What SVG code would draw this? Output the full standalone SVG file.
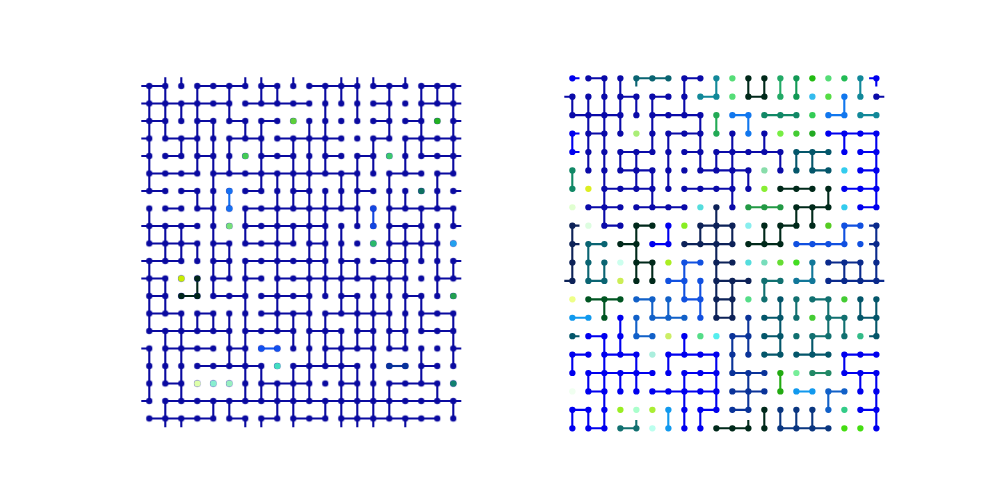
<svg xmlns="http://www.w3.org/2000/svg" width="1000" height="500" viewBox="0 0 1000 500">
<style>
.e{fill:none;stroke-width:2.1;vector-effect:non-scaling-stroke}
.d{fill:none;stroke-width:6.2;stroke-linecap:round;vector-effect:non-scaling-stroke}
</style>
<defs>
<pattern id="pl" patternUnits="userSpaceOnUse" x="141.3" y="77.25" width="16" height="17.5"><circle cx="8" cy="8.75" r="3.1" fill="#0a0aa0"/></pattern>
</defs>
<rect width="1000" height="500" fill="#fff"/>
<g id="left-lattice">
<g id="left-connectors" transform="translate(149.3 86) scale(16 17.5)">
<path class="e" stroke="#0a0aa0" d="M-.5 0H1M3 0H6M7 0H8M10 0H13M14 0H16M17 0H19.5M-.5 1H5M6 1H10M14 1H15M17 1H19.5M-.5 2H1M3 2H4M5 2H6M7 2H8M14 2H15M16 2H17M19 2H19.5M-.5 3H0M1 3H3M5 3H7M8 3H12M14 3H15M16 3H19.5M-.5 4H0M1 4H2M3 4H4M7 4H9M11 4H12M13 4H14M17 4H19.5M0 5H3M4 5H13M15 5H17M18 5H19M-.5 6H1M2 6H3M6 6H7M9 6H10M13 6H14M19 6H19.5M1 7H2M3 7H4M6 7H13M15 7H19M-.5 8H3M6 8H11M15 8H17M19 8H19.5M0 9H3M4 9H5M6 9H9M10 9H11M15 9H18M-.5 10H2M4 10H5M6 10H11M12 10H13M14 10H16M19 10H19.5M-.5 11H1M4 11H5M6 11H7M8 11H16M18 11H19.5M0 12H1M4 12H6M7 12H10M12 12H13M16 12H17M0 13H2M3 13H4M7 13H10M11 13H15M17 13H19M0 14H5M6 14H9M10 14H12M13 14H14M15 14H16M17 14H19M-.5 15H0M1 15H4M5 15H6M11 15H14M15 15H16M19 15H19.5M3 16H7M9 16H13M17 16H18M1 17H2M7 17H10M12 17H13M15 17H18M-.5 18H0M1 18H19.5M0 19H4M5 19H6M7 19H8M9 19H11M12 19H18M0 0V6M0 7V9M0 10V14M0 15V18M1 0V3M1 8V10M1 11V13M1 14V17M1 18V19M2 1V2M2 3V4M2 8V10M2 13V18M3 0V5M3 6V7M3 9V10M3 13V14M4 2V12M4 13V14M4 18V19M5 0V2M5 3V5M5 9V11M5 13V16M5 18V19M6 2V3M6 7V9M6 10V18M7 0V1M7 2V6M7 16V18M8 0V1M8 5V14M8 17V19M9 3V7M9 8V9M9 13V15M9 16V19M10 2V18M11 0V5M11 6V12M11 13V16M11 18V19M12 0V1M12 5V7M12 8V13M12 14V19M13 0V2M13 4V8M13 10V11M13 12V15M13 16V19M14 3V5M14 11V19M15 0V3M15 5V15M15 17V19M16 3V5M16 6V7M16 8V15M17 0V4M17 7V10M17 12V14M17 15V17M18 0V1M18 5V7M18 8V12M18 17V18M19 0V5M19 7V8M19 10V11M19 13V16M19 18V19M1 -.5V0M1 19V19.5M2 -.5V0M2 19V19.5M6 -.5V0M6 19V19.5M7 -.5V0M7 19V19.5M9 -.5V0M9 19V19.5M12 -.5V0M12 19V19.5M13 -.5V0M13 19V19.5M14 -.5V0M14 19V19.5M16 -.5V0M16 19V19.5"/>
<path class="e" stroke="#1570f0" d="M5 6V7"/>
<path class="e" stroke="#1246e0" d="M14 7V8"/>
<path class="e" stroke="#00261a" d="M3 11V12H2"/>
<path class="e" stroke="#1150ee" d="M7 15H8"/>
<path class="e" stroke="#08339a" d="M15 16H16"/>
</g>
<g id="left-nodes">
<rect x="141.3" y="77.25" width="320" height="350" fill="url(#pl)"/>
<g transform="translate(149.3 86) scale(16 17.5)">
<path class="d" stroke="#5ccf3a" d="M9 2h.01"/>
<path class="d" stroke="#44cc55" d="M6 4h.01"/>
<path class="d" stroke="#1570f0" d="M5 6h.01M5 7h.01"/>
<path class="d" stroke="#77e07a" d="M5 8h.01"/>
<path class="d" stroke="#22b022" d="M18 2h.01"/>
<path class="d" stroke="#3cc86e" d="M15 4h.01"/>
<path class="d" stroke="#0f7060" d="M17 6h.01"/>
<path class="d" stroke="#1246e0" d="M14 7h.01M14 8h.01"/>
<path class="d" stroke="#2ab86a" d="M14 9h.01"/>
<path class="d" stroke="#22a0ee" d="M19 9h.01"/>
<path class="d" stroke="#c8ee00" d="M2 11h.01"/>
<path class="d" stroke="#00261a" d="M3 11h.01M2 12h.01M3 12h.01"/>
<path class="d" stroke="#1150ee" d="M7 15h.01M8 15h.01"/>
<path class="d" stroke="#44ddc0" d="M8 16h.01"/>
<path class="d" stroke="#ddffaa" d="M3 17h.01"/>
<path class="d" stroke="#88eed0" d="M4 17h.01"/>
<path class="d" stroke="#99efc0" d="M5 17h.01"/>
<path class="d" stroke="#22a050" d="M19 12h.01"/>
<path class="d" stroke="#08339a" d="M15 16h.01M16 16h.01"/>
<path class="d" stroke="#128070" d="M19 17h.01"/>
</g>
</g>
</g>
<g id="right-lattice" transform="translate(572.3 78.3) scale(16 18.42)">
<g id="right-connectors">
<path class="e" stroke="#0000ee" d="M0 0H.45M18.55 0H19M19 0V.45M0 3H.45M16 3H19M0 3V4M17 3V4M19 3V7M0 4H.45M18 4H19M18 5H19M17 6H19M18 7H19M6 8V9M5 9H6M3 13V15M1 14H2M2 14V19M7 14V15M0 15H1M2 15H4M6 15H9M17 15H19M0 15V16M4 15V17M6 15V16M9 15V18M17 15V16M1 16H5M7 16H9M17 16H19M1 16V17M3 16V17M7 16V19M18 16V17M19 16V19M1 17H2M5 17H9M0 18H1M8 18H9M18 18H19M0 18V19M1 18V19M8 18V19M1 19H2"/>
<path class="e" stroke="#0a0aa8" d="M1 0H2M7 0H8M-.5 1H0M3 1H4M5 1H6M19 1H19.5M0 2H3M5 2H8M1 3H2M6 3H8M3 4H5M7 4H8M9 4H13M3 5H5M8 5H11M2 6H5M7 6H10M1 7H3M4 7H7M2 8H3M0 1V2M1 1V5M2 0V8M3 0V3M3 4V5M4 1V2M4 4V6M5 1V4M5 5V7M6 3V6M7 0V2M8 2V5M9 4V5M10 3V7M11 5V6M12 3V4M13 4V5"/>
<path class="e" stroke="#0a6472" d="M4 0H6M4 0V.45M1 9H2M1 9V11M2 10V11M1 11H2"/>
<path class="e" stroke="#118899" d="M8 1H9M18 2H19M9 0V1M18 0V1"/>
<path class="e" stroke="#00291a" d="M11 0V1H12V0M13 6H15M16 6V7M14 7H16M14 7V8M15 7V8M4 8H5M13 8H14M4 8V11M12 8V9M13 8V9M3 9H4M11 9H13M4 10H5M5 10V11M12 18V19M11 18.55V19M9 19H11"/>
<path class="e" stroke="#0d2258" d="M9 7V13M8 8H10M0 8V11M8 8V9M10 8V9M7 9H10M0 8H.45M0 9H.45M9 10H10M-.5 11H0M9 11H11M10 11V13M9 12H10M9 13H10"/>
<path class="e" stroke="#0a2a8c" d="M19 8V11M18.55 8H19M18.55 9H19M16 10H18M17 10V11M18 10V11M16 11H19.5"/>
<path class="e" stroke="#0a3399" d="M11 13V15M10 14H11M10 14V16M10 16H12M11 16V18M10 17H12M10 18H11"/>
<path class="e" stroke="#0a3680" d="M13 18V19M14 18V19M15 18V19M13 19H16"/>
<path class="e" stroke="#04566a" d="M14 4H16M14 4V5M15 4V5M15 5H16M13 12V15M18 12V13M19 12V14M12 13H13M18 13H19M0 14H.45M12 14H13M18.55 14H19M15 14V15M12 15H13M14 15H16"/>
<path class="e" stroke="#117799" d="M15 10V11M14 11H15"/>
<path class="e" stroke="#117070" d="M12 11H13M12 11V12M15 12H16M14 12V13M16 12V14M16 13H17M17 13V14M15 14H16M4 18.55V19M3 19H4"/>
<path class="e" stroke="#1177ee" d="M17 1V2M10 2H11M16 2H17M11 2V3"/>
<path class="e" stroke="#1150e0" d="M17 8H18M17 8V9M14 9H17M7 10H8M7 10V12M6 11H7M8 11V13M7 12H8"/>
<path class="e" stroke="#1160c8" d="M4 12H5M5 12V13M6 12V13M5 13H7M4 13V14M4 14H5M16 17H17M16 17V18"/>
<path class="e" stroke="#1199ee" d="M0 13H1M14 17H15M6 18V19"/>
<path class="e" stroke="#005522" d="M1 12H3M2 12V13"/>
<path class="e" stroke="#118866" d="M12 2H14M0 5V6"/>
<path class="e" stroke="#22aa55" d="M9 2V3"/>
<path class="e" stroke="#229944" d="M11 7H13"/>
<path class="e" stroke="#22aa11" d="M13 16V17"/>
<path class="e" stroke="#228866" d="M15 16H16"/>
<path class="e" stroke="#22aa66" d="M13 0V1"/>
<path class="e" stroke="#119955" d="M14 0V1"/>
</g>
<g id="right-nodes">
<path class="d" stroke="#0a0aa8" d="M1 0h.01M2 0h.01M3 0h.01M7 0h.01M8 0h.01M0 1h.01M1 1h.01M2 1h.01M3 1h.01M4 1h.01M5 1h.01M6 1h.01M7 1h.01M19 1h.01M0 2h.01M1 2h.01M2 2h.01M3 2h.01M4 2h.01M5 2h.01M6 2h.01M7 2h.01M8 2h.01M1 3h.01M2 3h.01M3 3h.01M5 3h.01M6 3h.01M7 3h.01M8 3h.01M10 3h.01M12 3h.01M1 4h.01M2 4h.01M3 4h.01M4 4h.01M5 4h.01M6 4h.01M7 4h.01M8 4h.01M9 4h.01M10 4h.01M11 4h.01M12 4h.01M13 4h.01M1 5h.01M2 5h.01M3 5h.01M4 5h.01M5 5h.01M6 5h.01M7 5h.01M8 5h.01M9 5h.01M10 5h.01M11 5h.01M13 5h.01M2 6h.01M3 6h.01M4 6h.01M5 6h.01M6 6h.01M7 6h.01M8 6h.01M9 6h.01M10 6h.01M11 6h.01M1 7h.01M2 7h.01M3 7h.01M4 7h.01M5 7h.01M6 7h.01M7 7h.01M10 7h.01M2 8h.01M3 8h.01"/>
<path class="d" stroke="#0000ee" d="M0 0h.01M19 0h.01M0 3h.01M16 3h.01M17 3h.01M18 3h.01M19 3h.01M0 4h.01M17 4h.01M18 4h.01M19 4h.01M18 5h.01M19 5h.01M17 6h.01M18 6h.01M19 6h.01M18 7h.01M19 7h.01M6 8h.01M5 9h.01M6 9h.01M3 13h.01M1 14h.01M2 14h.01M3 14h.01M7 14h.01M0 15h.01M1 15h.01M2 15h.01M3 15h.01M4 15h.01M6 15h.01M7 15h.01M8 15h.01M9 15h.01M17 15h.01M18 15h.01M19 15h.01M0 16h.01M1 16h.01M2 16h.01M3 16h.01M4 16h.01M5 16h.01M6 16h.01M7 16h.01M8 16h.01M9 16h.01M17 16h.01M18 16h.01M19 16h.01M1 17h.01M2 17h.01M3 17h.01M4 17h.01M5 17h.01M6 17h.01M7 17h.01M8 17h.01M9 17h.01M18 17h.01M19 17h.01M0 18h.01M1 18h.01M2 18h.01M7 18h.01M8 18h.01M9 18h.01M18 18h.01M19 18h.01M0 19h.01M1 19h.01M2 19h.01M7 19h.01M8 19h.01M19 19h.01"/>
<path class="d" stroke="#0a6472" d="M4 0h.01M5 0h.01M6 0h.01M1 9h.01M2 9h.01M1 10h.01M2 10h.01M1 11h.01M2 11h.01"/>
<path class="d" stroke="#118899" d="M9 0h.01M18 0h.01M8 1h.01M9 1h.01M18 1h.01M18 2h.01M19 2h.01"/>
<path class="d" stroke="#00291a" d="M11 0h.01M12 0h.01M11 1h.01M12 1h.01M13 6h.01M14 6h.01M15 6h.01M16 6h.01M14 7h.01M15 7h.01M16 7h.01M4 8h.01M5 8h.01M12 8h.01M13 8h.01M14 8h.01M15 8h.01M3 9h.01M4 9h.01M11 9h.01M12 9h.01M13 9h.01M4 10h.01M5 10h.01M4 11h.01M5 11h.01M12 18h.01M9 19h.01M10 19h.01M11 19h.01M12 19h.01"/>
<path class="d" stroke="#0d2258" d="M9 7h.01M0 8h.01M8 8h.01M9 8h.01M10 8h.01M0 9h.01M7 9h.01M8 9h.01M9 9h.01M10 9h.01M0 10h.01M9 10h.01M10 10h.01M0 11h.01M9 11h.01M10 11h.01M11 11h.01M9 12h.01M10 12h.01M9 13h.01M10 13h.01"/>
<path class="d" stroke="#0a2a8c" d="M19 8h.01M19 9h.01M16 10h.01M17 10h.01M18 10h.01M19 10h.01M16 11h.01M17 11h.01M18 11h.01M19 11h.01"/>
<path class="d" stroke="#0a3399" d="M11 13h.01M10 14h.01M11 14h.01M10 15h.01M11 15h.01M10 16h.01M11 16h.01M12 16h.01M10 17h.01M11 17h.01M12 17h.01M10 18h.01M11 18h.01"/>
<path class="d" stroke="#0a3680" d="M13 18h.01M14 18h.01M15 18h.01M13 19h.01M14 19h.01M15 19h.01M16 19h.01"/>
<path class="d" stroke="#04566a" d="M14 4h.01M15 4h.01M16 4h.01M14 5h.01M15 5h.01M16 5h.01M13 12h.01M18 12h.01M19 12h.01M12 13h.01M13 13h.01M18 13h.01M19 13h.01M0 14h.01M12 14h.01M13 14h.01M19 14h.01M12 15h.01M13 15h.01M14 15h.01M15 15h.01M16 15h.01"/>
<path class="d" stroke="#117799" d="M15 10h.01M14 11h.01M15 11h.01"/>
<path class="d" stroke="#117070" d="M12 11h.01M13 11h.01M12 12h.01M14 12h.01M15 12h.01M16 12h.01M14 13h.01M16 13h.01M17 13h.01M14 14h.01M15 14h.01M16 14h.01M17 14h.01M3 19h.01M4 19h.01"/>
<path class="d" stroke="#1177ee" d="M17 1h.01M10 2h.01M11 2h.01M16 2h.01M17 2h.01M11 3h.01"/>
<path class="d" stroke="#1150e0" d="M17 8h.01M18 8h.01M14 9h.01M15 9h.01M16 9h.01M17 9h.01M18 9h.01M7 10h.01M8 10h.01M6 11h.01M7 11h.01M8 11h.01M7 12h.01M8 12h.01M8 13h.01"/>
<path class="d" stroke="#1160c8" d="M4 12h.01M5 12h.01M6 12h.01M4 13h.01M5 13h.01M6 13h.01M7 13h.01M4 14h.01M5 14h.01M16 17h.01M17 17h.01M16 18h.01"/>
<path class="d" stroke="#1199ee" d="M0 13h.01M1 13h.01M14 17h.01M15 17h.01M6 18h.01M6 19h.01"/>
<path class="d" stroke="#005522" d="M1 12h.01M2 12h.01M3 12h.01M2 13h.01"/>
<path class="d" stroke="#118866" d="M12 2h.01M13 2h.01M14 2h.01M0 5h.01M0 6h.01"/>
<path class="d" stroke="#22aa55" d="M9 2h.01M9 3h.01"/>
<path class="d" stroke="#229944" d="M11 7h.01M12 7h.01M13 7h.01"/>
<path class="d" stroke="#22aa11" d="M13 16h.01M13 17h.01"/>
<path class="d" stroke="#228866" d="M15 16h.01M16 16h.01"/>
<path class="d" stroke="#22aa66" d="M13 0h.01M13 1h.01"/>
<path class="d" stroke="#119955" d="M14 0h.01M14 1h.01"/>
<path class="d" stroke="#55dd77" d="M10 0h.01M16 0h.01M10 1h.01"/>
<path class="d" stroke="#22bb11" d="M15 0h.01"/>
<path class="d" stroke="#22bb55" d="M17 0h.01"/>
<path class="d" stroke="#33bbee" d="M15 1h.01"/>
<path class="d" stroke="#55dd44" d="M16 1h.01"/>
<path class="d" stroke="#33cc55" d="M15 2h.01"/>
<path class="d" stroke="#aaee77" d="M4 3h.01"/>
<path class="d" stroke="#77ee44" d="M13 3h.01"/>
<path class="d" stroke="#44cc33" d="M14 3h.01M17 12h.01M15 13h.01"/>
<path class="d" stroke="#22aa22" d="M15 3h.01"/>
<path class="d" stroke="#88ddaa" d="M12 5h.01"/>
<path class="d" stroke="#33ccee" d="M17 5h.01M17 7h.01"/>
<path class="d" stroke="#ddee22" d="M1 6h.01"/>
<path class="d" stroke="#88ee33" d="M12 6h.01"/>
<path class="d" stroke="#e0ffd0" d="M0 7h.01"/>
<path class="d" stroke="#55dddd" d="M8 7h.01M11 10h.01"/>
<path class="d" stroke="#ddfde0" d="M1 8h.01"/>
<path class="d" stroke="#88ee22" d="M7 8h.01"/>
<path class="d" stroke="#88eeee" d="M11 8h.01"/>
<path class="d" stroke="#55cc22" d="M16 8h.01"/>
<path class="d" stroke="#ccffee" d="M3 10h.01"/>
<path class="d" stroke="#aaee22" d="M6 10h.01"/>
<path class="d" stroke="#77ddbb" d="M12 10h.01"/>
<path class="d" stroke="#66dd33" d="M13 10h.01"/>
<path class="d" stroke="#44dd22" d="M14 10h.01"/>
<path class="d" stroke="#ccee55" d="M3 11h.01"/>
<path class="d" stroke="#eeff88" d="M0 12h.01"/>
<path class="d" stroke="#55dd88" d="M11 12h.01M8 14h.01"/>
<path class="d" stroke="#ccee66" d="M6 14h.01"/>
<path class="d" stroke="#55eeee" d="M9 14h.01"/>
<path class="d" stroke="#33bb88" d="M18 14h.01"/>
<path class="d" stroke="#aaeedd" d="M5 15h.01"/>
<path class="d" stroke="#77ee99" d="M14 16h.01"/>
<path class="d" stroke="#f0fff0" d="M0 17h.01"/>
<path class="d" stroke="#99ee22" d="M3 18h.01"/>
<path class="d" stroke="#aaffcc" d="M4 18h.01"/>
<path class="d" stroke="#aaee33" d="M5 18h.01"/>
<path class="d" stroke="#33cc88" d="M17 18h.01"/>
<path class="d" stroke="#bbffee" d="M5 19h.01"/>
<path class="d" stroke="#44dd11" d="M17 19h.01M18 19h.01"/>
</g>
</g>
</svg>
